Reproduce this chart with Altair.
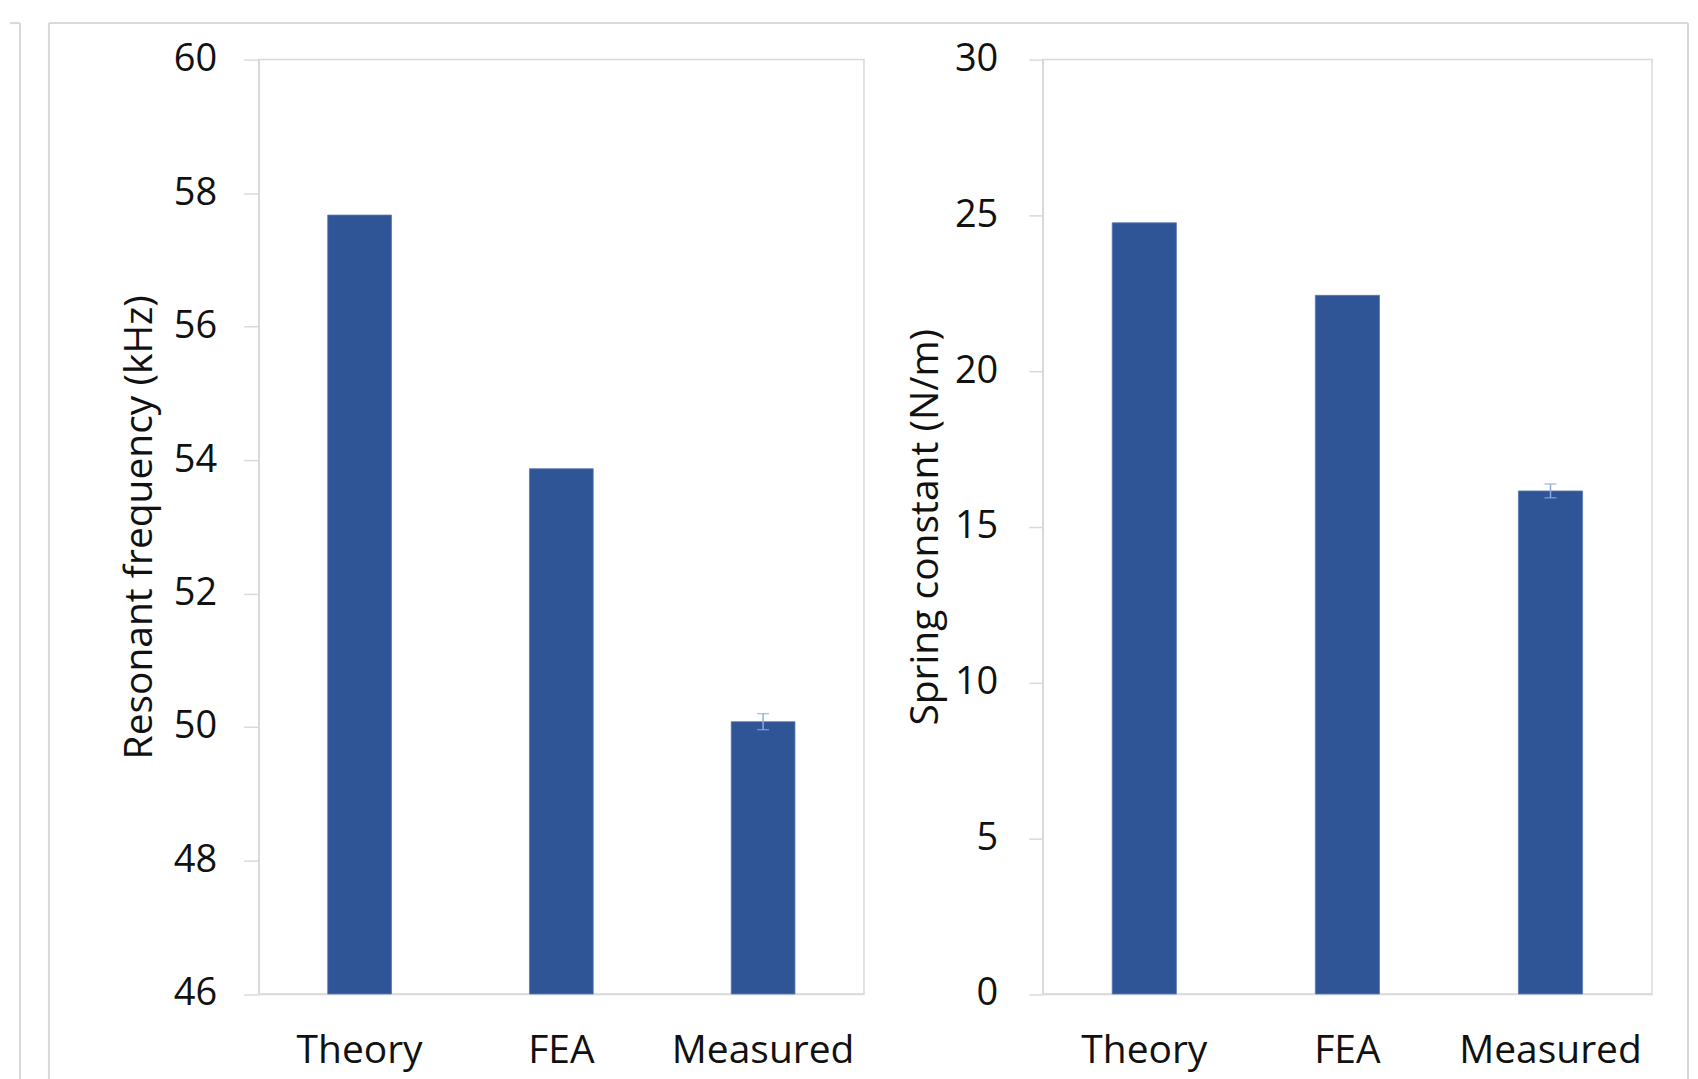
import altair as alt
import pandas as pd

# ---- data ----
categories = ["Theory", "FEA", "Measured"]
freq_values = [57.67, 53.87, 50.08]      # Resonant frequency (kHz)
freq_errors = [0.0, 0.0, 0.12]
spring_values = [24.76, 22.43, 16.15]    # Spring constant (N/m)
spring_errors = [0.0, 0.0, 0.22]

freq_ticks = [46, 48, 50, 52, 54, 56, 58, 60]
spring_ticks = [0, 5, 10, 15, 20, 25, 30]

BAR = "#2F5597"
BAR_EDGE = "#5878B8"
ERR = "#8FAADC"
GRID = "#D9D9D9"
TXT = "#111111"
FONT = "Open Sans"

PLOT_H = 935.5


def panel(values, errors, domain, ticks, title, tick_size, label_pad, title_pad):
    df = pd.DataFrame({"cat": categories, "val": values, "err": errors})
    df["lo"] = df["val"] - df["err"]
    df["hi"] = df["val"] + df["err"]
    x = alt.X(
        "cat:N", sort=categories, title=None,
        scale=alt.Scale(paddingInner=0.684, paddingOuter=0.342),
        axis=alt.Axis(labelAngle=0, ticks=False, tickSize=0, labelPadding=38,
                      labelFontSize=39, labelFont=FONT, labelColor=TXT, labelLimit=0,
                      domainColor=GRID, domainWidth=1.5),
    )
    y = alt.Y(
        "val:Q", title=title,
        scale=alt.Scale(domain=domain, nice=False, zero=False),
        axis=alt.Axis(values=ticks, format="d", tickSize=tick_size, tickColor=GRID,
                      tickWidth=1.5, labelPadding=label_pad, labelFontSize=38,
                      labelFont=FONT, labelColor=TXT,
                      titleFont=FONT, titleFontSize=39, titleFontWeight="normal",
                      titleColor=TXT, titlePadding=title_pad,
                      domainColor=GRID, domainWidth=1.5, grid=False),
    )
    bars = alt.Chart(df).mark_bar(color=BAR, stroke=BAR_EDGE, strokeWidth=0.8).encode(
        x=x, y=y, y2=alt.datum(domain[0])
    )
    errdf = df[df["err"] > 0]
    xe = alt.X("cat:N", sort=categories)
    rule = alt.Chart(errdf).mark_rule(color=ERR, strokeWidth=1.5).encode(
        x=xe, y="lo:Q", y2="hi:Q"
    )
    cap_lo = alt.Chart(errdf).mark_tick(color=ERR, size=12, thickness=1.5).encode(x=xe, y="lo:Q")
    cap_hi = alt.Chart(errdf).mark_tick(color=ERR, size=12, thickness=1.5).encode(x=xe, y="hi:Q")
    return [bars, rule, cap_lo, cap_hi]


# decorative frame lines of the screenshot (pixel offsets relative to the left plot area)
one = pd.DataFrame({"a": [0]})


def hline(x1, x2, y):
    return alt.Chart(one).mark_rule(color=GRID, strokeWidth=2).encode(
        x=alt.value(x1), x2=alt.value(x2), y=alt.value(y))


def vline(x, y1, y2):
    return alt.Chart(one).mark_rule(color=GRID, strokeWidth=2).encode(
        x=alt.value(x), y=alt.value(y1), y2=alt.value(y2))


frames = [
    hline(-249, -239, -36.5),
    vline(-239, -36.5, 1023),
    hline(-210, 1431, -36.5),
    vline(-210, -36.5, 1023),
    vline(1431, -36.5, 1023),
]

left = alt.layer(
    *frames,
    *panel(freq_values, freq_errors, [46, 60], freq_ticks,
           "Resonant frequency (kHz)", 15, 27, 14),
).properties(width=606, height=PLOT_H)

right = alt.layer(
    *panel(spring_values, spring_errors, [0, 30], spring_ticks,
           "Spring constant (N/m)", 14, 31, 9),
).properties(width=610, height=PLOT_H)

chart = alt.hconcat(left, right, spacing=179, bounds="flush").properties(
    padding={"left": 0, "top": 12, "right": 0, "bottom": 0},
    background="white",
).configure_view(
    stroke=GRID, strokeWidth=1.5
).configure_axis(
    labelFont=FONT, titleFont=FONT, labelColor=TXT, titleColor=TXT,
    titleFontWeight="normal",
)

chart.save("out.html", embed_options={"renderer": "svg", "actions": False})
